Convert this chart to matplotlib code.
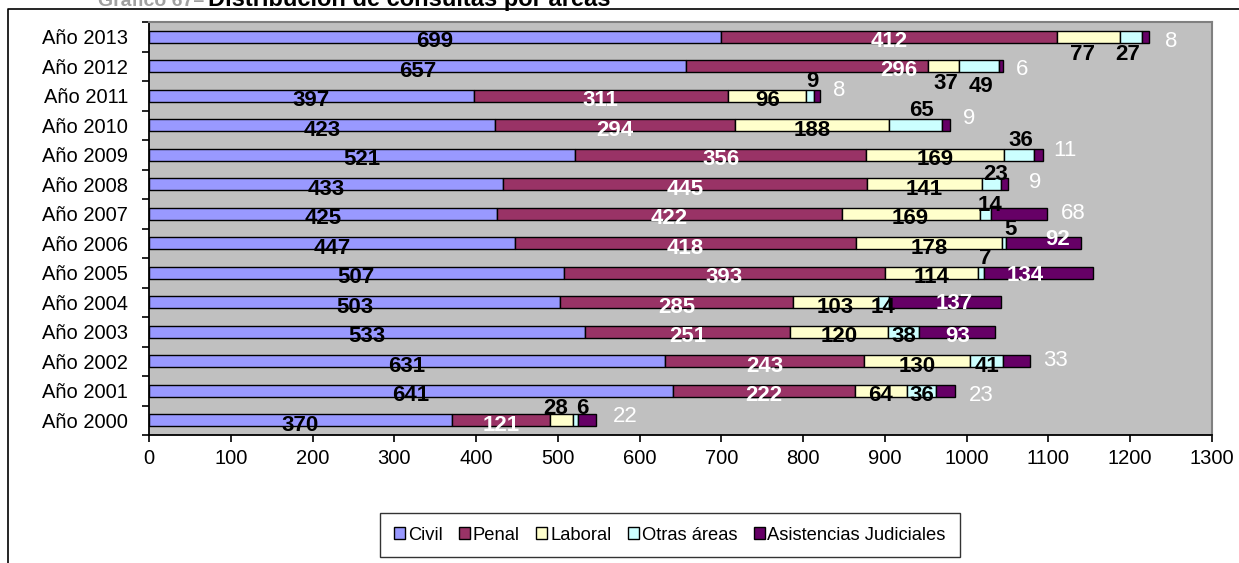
import matplotlib

matplotlib.use("Agg")
import matplotlib.pyplot as plt
import numpy as np
from matplotlib.lines import Line2D
from matplotlib.patches import Patch

plt.rcParams["font.family"] = ["Liberation Sans", "DejaVu Sans"]

YEARS = ["Año 2000", "Año 2001", "Año 2002", "Año 2003", "Año 2004", "Año 2005", "Año 2006",
         "Año 2007", "Año 2008", "Año 2009", "Año 2010", "Año 2011", "Año 2012", "Año 2013"]
SERIES = ["Civil", "Penal", "Laboral", "Otras áreas", "Asistencias Judiciales"]
civil = [370, 641, 631, 533, 503, 507, 447, 425, 433, 521, 423, 397, 657, 699]
penal = [121, 222, 243, 251, 285, 393, 418, 422, 445, 356, 294, 311, 296, 412]
laboral = [28, 64, 130, 120, 103, 114, 178, 169, 141, 169, 188, 96, 37, 77]
otras = [6, 36, 41, 38, 14, 7, 5, 14, 23, 36, 65, 9, 49, 27]
asistencias = [22, 23, 33, 93, 137, 134, 92, 68, 9, 11, 9, 8, 6, 8]

COLORS = ["#9999FF", "#993366", "#FFFFCC", "#CCFFFF", "#660066"]
LABEL_COLORS = ["black", "white", "black", "black", "white"]

# hand-moved labels (px from segment centre, px down from bar centre)
NUDGE = {
    (13, 2): (-6, 15), (13, 3): (-4, 15),
    (12, 1): (92, 2), (12, 2): (2, 15), (12, 3): (2, 18),
    (11, 3): (2, -17), (10, 3): (6, -17), (9, 3): (2, -17), (8, 3): (4, -12),
    (7, 3): (5, -11), (6, 3): (7, -16), (5, 3): (4, -17),
    (6, 4): (14, -6), (5, 4): (-13, 0), (4, 4): (9, -1),
    (0, 2): (-6, -14), (0, 3): (6, -14),
}
# Asistencias labels sitting outside the bar (px from bar end)
OUTSIDE = {13: (22, 2), 12: (19, 1), 11: (19, -8), 10: (20, -9), 9: (22, -7),
           8: (27, -4), 7: (26, -3), 2: (25, -3), 1: (26, 2), 0: (29, -6)}

W, H = 1239, 563
fig = plt.figure(figsize=(W / 100, H / 100), dpi=100, facecolor="white")
ax = fig.add_axes([149 / W, 1 - 435 / H, (1212 - 149) / W, (435 - 22) / H])
ax.set_facecolor("#C0C0C0")

data = np.array([civil, penal, laboral, otras, asistencias])
y = np.arange(len(YEARS))
left = np.zeros(len(YEARS))
totals = data.sum(axis=0)
PT = 0.72  # px -> points at 100 dpi

for s, vals in enumerate(data):
    ax.barh(y, vals, left=left, height=0.42, color=COLORS[s], edgecolor="black",
            linewidth=1.0, label=SERIES[s])
    for i, v in enumerate(vals):
        if s == 4 and i in OUTSIDE:
            dx, dy = OUTSIDE[i]
            x0, weight = totals[i], "normal"
        else:
            dx, dy = NUDGE.get((i, s), (0, 2.5))
            x0, weight = left[i] + v / 2, "bold"
        ax.annotate(str(v), xy=(x0, y[i]), xytext=(dx * PT, -dy * PT),
                    textcoords="offset points", ha="center", va="center_baseline",
                    fontsize=16, fontweight=weight, color=LABEL_COLORS[s])
    left += vals

ax.set_xlim(0, 1300)
ax.set_ylim(-0.5, len(YEARS) - 0.5)
ax.set_xticks(np.arange(0, 1301, 100))
ax.set_yticks(y)
ax.set_yticklabels(YEARS)
ax.set_yticks(np.arange(-0.5, len(YEARS)), minor=True)
ax.tick_params(axis="y", which="major", length=0, pad=15, labelsize=14.5)
ax.tick_params(axis="y", which="minor", length=5, width=1.2, direction="out", color="black")
ax.tick_params(axis="x", length=5, width=1.2, direction="out", pad=5, labelsize=14.5)
for side in ("left", "bottom"):
    ax.spines[side].set_color("black")
    ax.spines[side].set_linewidth(1.3)
for side in ("top", "right"):
    ax.spines[side].set_color("#808080")
    ax.spines[side].set_linewidth(1.5)

handles = [Patch(facecolor=c, edgecolor="black", linewidth=1.0) for c in COLORS]
leg = fig.legend(handles, SERIES, loc="center", bbox_to_anchor=(670 / W, 1 - 535 / H),
                 ncol=5, fontsize=13.2, frameon=True, fancybox=False, edgecolor="black",
                 handlelength=0.6, handleheight=0.6, handletextpad=0.15,
                 columnspacing=0.9, borderpad=0.75)
leg.get_frame().set_linewidth(1.0)

# outer chart frame (only left and top edges are inside the picture)
fig.add_artist(Line2D([8 / W, 8 / W, 1], [0, 1 - 9 / H, 1 - 9 / H],
                      transform=fig.transFigure, color="black", linewidth=1.2))

fig.text(98 / W, 1 - 6 / H, "Gráfico 67–", color="#A0A0A0", fontsize=14,
         fontweight="bold", ha="left", va="baseline")
fig.text(208 / W, 1 - 6 / H, "Distribución de consultas por áreas", color="black",
         fontsize=17, fontweight="bold", ha="left", va="baseline")

fig.savefig("out.png", dpi=100, facecolor="white")
plt.close(fig)
